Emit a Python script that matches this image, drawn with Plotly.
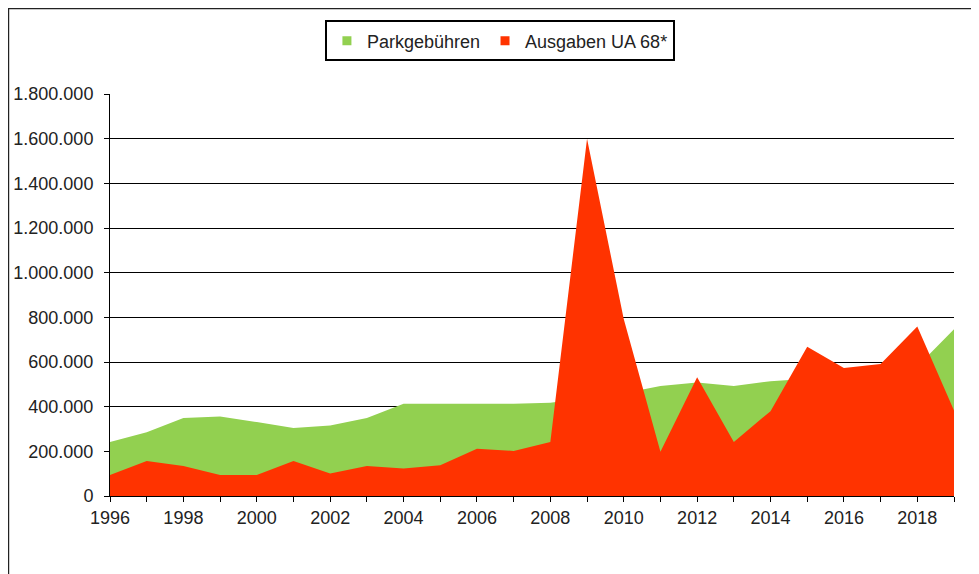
import plotly.graph_objects as go

years = list(range(1996, 2020))
parkgebuehren = [242000, 286000, 349000, 356000, 331000, 304000, 316000, 349000,
                 413000, 413000, 413000, 413000, 418000, 440000, 460000, 492000,
                 508000, 492000, 514000, 525000, 545000, 560000, 580000, 747000]
ausgaben = [94000, 157000, 134000, 94000, 94000, 157000, 101000, 134000,
            123000, 138000, 212000, 202000, 242000, 1600000, 792000, 198000,
            532000, 242000, 380000, 668000, 573000, 591000, 759000, 383000]
series_names = ["Parkgebühren", "Ausgaben UA 68*"]
colors = ["#92D050", "#FF3300"]

fig = go.Figure()
for name, vals, col in zip(series_names, [parkgebuehren, ausgaben], colors):
    fig.add_trace(go.Scatter(x=years, y=vals, mode="none", fill="tozeroy",
                             fillcolor=col, showlegend=False, hoverinfo="x+y",
                             name=name))
for name, col in zip(series_names, colors):
    fig.add_trace(go.Scatter(x=[None], y=[None], mode="markers", name=name,
                             marker=dict(symbol="square", size=9, color=col)))

fig.update_layout(
    width=971, height=566,
    margin=dict(l=102, r=25, t=84, b=78),
    paper_bgcolor="white", plot_bgcolor="white",
    separators=",.",
    font=dict(family="Liberation Sans, Arial, sans-serif", size=18, color="#222"),
    legend=dict(orientation="h", x=0.462, xanchor="center", y=1.183, yanchor="top",
                bordercolor="black", borderwidth=2, bgcolor="white",
                font=dict(size=18), itemwidth=30),
    xaxis=dict(range=[1996, 2019], tick0=1996, dtick=2, ticks="outside", ticklen=5,
               tickcolor="black", showline=True, linecolor="black", linewidth=1,
               showgrid=False, zeroline=False, automargin=False,
               minor=dict(dtick=1, ticks="outside", ticklen=5, tickcolor="black", showgrid=False)),
    yaxis=dict(range=[0, 1800000], dtick=200000, tickformat=",d", ticks="outside",
               ticklen=5, tickcolor="black", showline=True, linecolor="black",
               linewidth=1, showgrid=True, gridcolor="black", gridwidth=1,
               zeroline=False, ticklabelstandoff=7, automargin=False),
    shapes=[dict(type="rect", xref="paper", yref="paper",
                 x0=-0.1203, x1=1.05, y0=-0.3, y1=1.2129,
                 line=dict(color="#222", width=1.5), layer="above")],
)

fig.write_html("out.html")
